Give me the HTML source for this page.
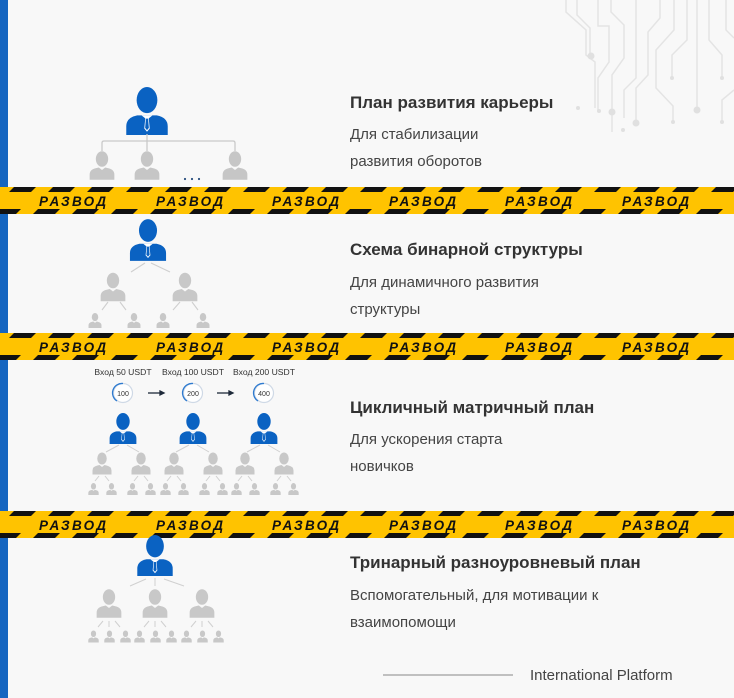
<!DOCTYPE html>
<html><head><meta charset="utf-8"><style>
html,body{margin:0;padding:0;background:#f8f8f8;}
svg{display:block;}
</style></head><body>
<svg width="734" height="698" viewBox="0 0 734 698" xmlns="http://www.w3.org/2000/svg" font-family="'Liberation Sans', sans-serif">
<defs>
<symbol id="p" viewBox="0 0 40 44">
<ellipse cx="20" cy="12" rx="9.5" ry="12"/>
<path d="M1 44 L1 36 Q1 28 11 26 L15 25 L20 29 L25 25 L29 26 Q39 28 39 36 L39 44 Z"/>
</symbol>
<symbol id="b" viewBox="0 0 40 44">
<ellipse cx="20" cy="12" rx="9.5" ry="12" fill="#0a62c2"/>
<path d="M1 44 L1 36 Q1 28 11 26 L29 26 Q39 28 39 36 L39 44 Z" fill="#0a62c2"/>
<path d="M15 26 L25 26 L20 30 Z" fill="#fff"/>
<path d="M18.5 28 L21.5 28 L22.5 38 L20 41 L17.5 38 Z" fill="#fff"/>
<path d="M19 29 L21 29 L21.7 37.5 L20 39.5 L18.3 37.5 Z" fill="#0a62c2"/>
</symbol>
<pattern id="st" x="0" y="0" width="39" height="27" patternUnits="userSpaceOnUse">
<polygon points="14,0 36,0 31,5 9,5" fill="#111"/>
<polygon points="-1,22 21,22 16,27 -6,27" fill="#111"/>
<polygon points="38,22 60,22 55,27 33,27" fill="#111"/>
</pattern>
<g id="tape">
<rect x="0" y="0" width="734" height="27" fill="#ffc300"/>
<rect x="0" y="0" width="734" height="27" fill="url(#st)"/>
<g font-size="13.5" font-weight="bold" font-style="italic" letter-spacing="2.3" fill="#111">
<text x="-78" y="19">РАЗВОД</text><text x="39" y="19">РАЗВОД</text><text x="156" y="19">РАЗВОД</text><text x="272" y="19">РАЗВОД</text><text x="389" y="19">РАЗВОД</text><text x="505" y="19">РАЗВОД</text><text x="622" y="19">РАЗВОД</text>
</g>
</g>
</defs>
<rect width="734" height="698" fill="#f8f8f8"/>
<rect x="0" y="0" width="8" height="698" fill="#1565c0"/>

<g stroke="#e4e4e4" stroke-width="1.5" fill="none">
<path d="M566 0 L566 12 L586 30 L586 55 L595 62 L595 108"/>
<path d="M577 0 L577 15 L590 28 L590 55"/>
<path d="M598 0 L598 26 L609 26 L609 62 L598 78 L598 112"/>
<path d="M611 0 L611 12 L624 25 L624 58 L612 75 L612 132"/>
<path d="M636 0 L636 78 L624 90 L624 118"/>
<path d="M660 0 L660 18 L648 32 L648 75 L636 88 L636 124"/>
<path d="M674 0 L674 30 L656 50 L656 88 L673 106 L673 122"/>
<path d="M687 0 L687 40 L672 55 L672 78"/>
<path d="M697 0 L697 110"/>
<path d="M709 0 L709 40 L722 55 L722 78"/>
<path d="M726 0 L726 30 L734 38"/>
<path d="M734 90 L722 100 L722 122"/>
</g>
<g fill="#e0e0e0">
<circle cx="591" cy="56" r="3.5"/><circle cx="578" cy="108" r="2"/><circle cx="599" cy="111" r="2"/><circle cx="612" cy="112" r="3.5"/><circle cx="623" cy="130" r="2"/><circle cx="636" cy="123" r="3.5"/><circle cx="672" cy="78" r="2"/><circle cx="673" cy="122" r="2"/><circle cx="697" cy="110" r="3.5"/><circle cx="722" cy="78" r="2"/><circle cx="722" cy="122" r="2"/>
</g>

<use href="#b" x="125" y="87" width="44" height="48"/>
<g stroke="#c9c9c9" stroke-width="1.3" fill="none">
<path d="M147 134 L147 151"/>
<path d="M102 151 L102 143 Q102 141 104 141 L233 141 Q235 141 235 143 L235 151"/>
</g>
<g fill="#c6c6c6">
<use href="#p" x="89" y="151" width="26" height="29"/>
<use href="#p" x="134" y="151" width="26" height="29"/>
<use href="#p" x="222" y="151" width="26" height="29"/>
</g>
<g fill="#2a4f7f"><circle cx="185" cy="179" r="1.1"/><circle cx="192" cy="179" r="1.1"/><circle cx="199" cy="179" r="1.1"/></g>

<text x="350" y="108" font-size="17" font-weight="bold" fill="#333">План развития карьеры</text>
<text x="350" y="139" font-size="15" fill="#444">Для стабилизации</text>
<text x="350" y="166" font-size="15" fill="#444">развития оборотов</text>

<use href="#tape" x="0" y="187"/>

<use href="#b" x="129" y="219" width="38" height="42"/>
<g stroke="#cfcfcf" stroke-width="1.1">
<path d="M145 263 L131 272 M151 263 L170 272"/>
<path d="M108 302 L102 310 M120 302 L126 310 M180 302 L173 310 M192 302 L198 310"/>
</g>
<g fill="#c8c8c8">
<use href="#p" x="100" y="272" width="26" height="30"/>
<use href="#p" x="172" y="272" width="26" height="30"/>
<use href="#p" x="88" y="313" width="14" height="15"/>
<use href="#p" x="127" y="313" width="14" height="15"/>
<use href="#p" x="156" y="313" width="14" height="15"/>
<use href="#p" x="196" y="313" width="14" height="15"/>
</g>
<text x="350" y="255" font-size="17" font-weight="bold" fill="#333">Схема бинарной структуры</text>
<text x="350" y="287" font-size="15" fill="#444">Для динамичного развития</text>
<text x="350" y="314" font-size="15" fill="#444">структуры</text>

<use href="#tape" x="0" y="333"/>

<g font-size="8.6" fill="#333" text-anchor="middle">
<text x="123" y="375">Вход 50 USDT</text>
<text x="193" y="375">Вход 100 USDT</text>
<text x="264" y="375">Вход 200 USDT</text>
</g>
<g fill="#fff" stroke-width="1.2">
<circle cx="123" cy="393" r="9.5" stroke="#cfd9e6"/>
<circle cx="193" cy="393" r="9.5" stroke="#cfd9e6"/>
<circle cx="264" cy="393" r="9.5" stroke="#cfd9e6"/>
</g>
<g fill="none" stroke="#2f7bd0" stroke-width="1.3">
<path d="M123 383.5 A9.5 9.5 0 0 0 117 401"/>
<path d="M193 383.5 A9.5 9.5 0 0 0 187 401"/>
<path d="M264 383.5 A9.5 9.5 0 0 0 258 401"/>
</g>
<g font-size="7" fill="#333" text-anchor="middle">
<text x="123" y="396">100</text><text x="193" y="396">200</text><text x="264" y="396">400</text>
</g>
<g stroke="#1e2a3a" stroke-width="1.3" fill="#1e2a3a">
<path d="M148 393 L160 393"/><path d="M160 391 L164 393 L160 395 Z"/>
<path d="M217 393 L229 393"/><path d="M229 391 L233 393 L229 395 Z"/>
</g>
<use href="#b" x="108" y="413" width="30" height="31"/>
<use href="#b" x="178" y="413" width="30" height="31"/>
<use href="#b" x="249" y="413" width="30" height="31"/>
<g stroke="#d0d0d0" stroke-width="1">
<path d="M119 445 L106 452 M127 445 L139 452 M189 445 L176 452 M197 445 L209 452 M260 445 L247 452 M268 445 L280 452"/>
<path d="M99 476 L95 481 M105 476 L109 481 M138 476 L134 481 M144 476 L148 481 M171 476 L167 481 M177 476 L181 481 M210 476 L206 481 M216 476 L220 481 M242 476 L238 481 M248 476 L252 481 M281 476 L277 481 M287 476 L291 481"/>
</g>
<g fill="#c8c8c8">
<use href="#p" x="92" y="452" width="20" height="23"/>
<use href="#p" x="131" y="452" width="20" height="23"/>
<use href="#p" x="164" y="452" width="20" height="23"/>
<use href="#p" x="203" y="452" width="20" height="23"/>
<use href="#p" x="235" y="452" width="20" height="23"/>
<use href="#p" x="274" y="452" width="20" height="23"/>
<use href="#p" x="88" y="483" width="11" height="12"/><use href="#p" x="106" y="483" width="11" height="12"/>
<use href="#p" x="127" y="483" width="11" height="12"/><use href="#p" x="145" y="483" width="11" height="12"/>
<use href="#p" x="160" y="483" width="11" height="12"/><use href="#p" x="178" y="483" width="11" height="12"/>
<use href="#p" x="199" y="483" width="11" height="12"/><use href="#p" x="217" y="483" width="11" height="12"/>
<use href="#p" x="231" y="483" width="11" height="12"/><use href="#p" x="249" y="483" width="11" height="12"/>
<use href="#p" x="270" y="483" width="11" height="12"/><use href="#p" x="288" y="483" width="11" height="12"/>
</g>
<text x="350" y="413" font-size="17" font-weight="bold" fill="#333">Цикличный матричный план</text>
<text x="350" y="444" font-size="15" fill="#444">Для ускорения старта</text>
<text x="350" y="471" font-size="15" fill="#444">новичков</text>

<use href="#tape" x="0" y="511"/>

<use href="#b" x="136" y="535" width="38" height="41"/>
<g stroke="#d0d0d0" stroke-width="1">
<path d="M146 579 L130 586 M155 578 L155 586 M164 579 L184 586"/>
<path d="M103 621 L98 627 M109 621 L109 627 M115 621 L120 627 M149 621 L144 627 M155 621 L155 627 M161 621 L166 627 M196 621 L191 627 M202 621 L202 627 M208 621 L213 627"/>
</g>
<g fill="#c8c8c8">
<use href="#p" x="96" y="589" width="26" height="29"/>
<use href="#p" x="142" y="589" width="26" height="29"/>
<use href="#p" x="189" y="589" width="26" height="29"/>
<use href="#p" x="88" y="630" width="11" height="13"/><use href="#p" x="104" y="630" width="11" height="13"/><use href="#p" x="120" y="630" width="11" height="13"/>
<use href="#p" x="134" y="630" width="11" height="13"/><use href="#p" x="150" y="630" width="11" height="13"/><use href="#p" x="166" y="630" width="11" height="13"/>
<use href="#p" x="181" y="630" width="11" height="13"/><use href="#p" x="197" y="630" width="11" height="13"/><use href="#p" x="213" y="630" width="11" height="13"/>
</g>
<text x="350" y="568" font-size="17" font-weight="bold" fill="#333">Тринарный разноуровневый план</text>
<text x="350" y="600" font-size="15" fill="#444">Вспомогательный, для мотивации к</text>
<text x="350" y="627" font-size="15" fill="#444">взаимопомощи</text>

<path d="M383 675 L513 675" stroke="#888" stroke-width="1"/>
<text x="530" y="680" font-size="15" fill="#444">International Platform</text>
</svg>
</body></html>
